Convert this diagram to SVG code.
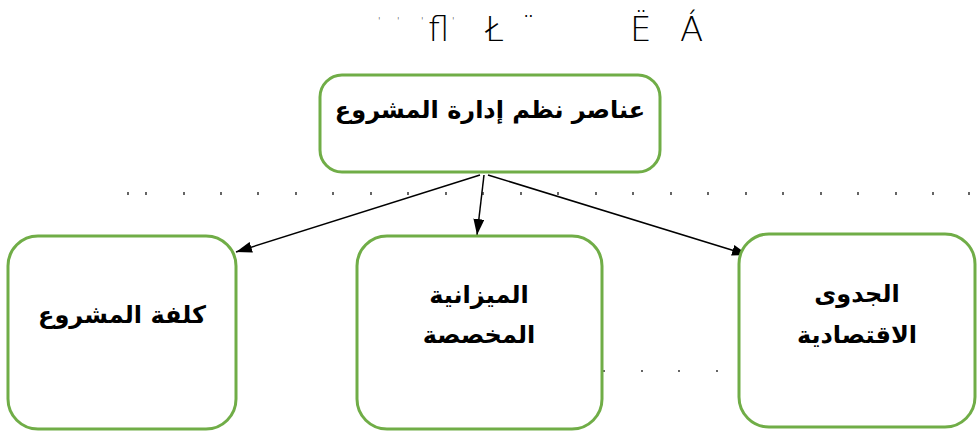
<svg xmlns="http://www.w3.org/2000/svg" width="977" height="438" viewBox="0 0 977 438">
<style>
.node{fill:#fff;stroke:#70AD47;stroke-width:3}
.lbl{font-family:"DejaVu Sans","Liberation Sans",sans-serif;font-weight:bold;font-size:24px;fill:#000;text-anchor:middle;direction:rtl}
.glyph{font-family:"DejaVu Sans ExtraLight","DejaVu Sans Light","DejaVu Sans Condensed",sans-serif;font-weight:200;font-size:34px;fill:#000}
.tk{font-family:"DejaVu Sans ExtraLight","DejaVu Sans",sans-serif;font-weight:200;font-size:9px;fill:#000}
.conn{stroke:#000;stroke-width:1.5;fill:none;marker-end:url(#ah)}
.tick{stroke:#000;stroke-width:1.2}
</style>
<defs>
<marker id="ah" viewBox="0 0 16 11" refX="16" refY="5.5" markerWidth="16" markerHeight="11" markerUnits="userSpaceOnUse" orient="auto">
<path d="M0,0 L16,5.5 L0,11 z" fill="#000"/>
</marker>
</defs>
<rect width="977" height="438" fill="#fff"/>
<g id="header-glyphs">
<text class="tk" x="378" y="24">'</text>
<text class="tk" x="397" y="24">'</text>
<text class="tk" x="421" y="24">'</text>
<text class="glyph" x="428" y="41">ﬂ</text>
<text class="tk" x="452" y="24">'</text>
<text class="glyph" x="485" y="41">Ł</text>
<text class="glyph" x="520" y="41">¨</text>
<text class="glyph" x="630" y="41">Ë</text>
<text class="glyph" x="680" y="41">Á</text>
</g>
<g id="dots" class="tick">
<path d="M128,192v3 M146,192v3 M184,192v3 M221,192v3 M258,192v3 M296,192v3 M333,192v3 M371,192v3 M408,192v3 M446,192v3 M483,192v3 M521,192v3 M558,192v3 M596,192v3 M633,192v3 M671,192v3 M708,192v3 M746,192v3 M783,192v3 M821,192v3 M858,192v3 M896,192v3 M933,192v3 M969,192v3"/>
<path d="M604,370v2 M642,370v2 M679,370v2 M717,370v2"/>
</g>
<g id="connectors">
<line class="conn" x1="480" y1="175" x2="236" y2="252"/>
<line class="conn" x1="484" y1="175" x2="477" y2="235"/>
<line class="conn" x1="488" y1="175" x2="748" y2="255"/>
</g>
<g id="node-top">
<rect class="node" x="320" y="75" width="340" height="97" rx="22"/>
<text class="lbl" x="490" y="118">عناصر نظم إدارة المشروع</text>
</g>
<g id="node-cost">
<rect class="node" x="8" y="236" width="228" height="193" rx="30"/>
<text class="lbl" x="122" y="323">كلفة المشروع</text>
</g>
<g id="node-budget">
<rect class="node" x="357" y="236" width="245" height="193" rx="30"/>
<text class="lbl" x="479" y="303">الميزانية</text>
<text class="lbl" x="479" y="343">المخصصة</text>
</g>
<g id="node-feasibility">
<rect class="node" x="739" y="234" width="236" height="193" rx="30"/>
<text class="lbl" x="857" y="302">الجدوى</text>
<text class="lbl" x="857" y="343">الاقتصادية</text>
</g>
</svg>
